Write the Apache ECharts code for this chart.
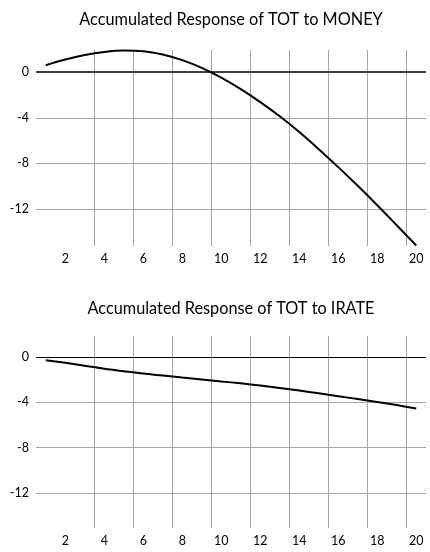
<!DOCTYPE html>
<html>
<head>
<meta charset="utf-8">
<script src="https://cdn.jsdelivr.net/npm/echarts@6/dist/echarts.min.js"></script>
<style>
  html, body { margin: 0; padding: 0; background: #fff; }
  #chart { width: 430px; height: 552px; }
</style>
</head>
<body>
<div id="chart"></div>
<script>
// Horizon (periods after the shock)
const periods = ['1','2','3','4','5','6','7','8','9','10','11','12','13','14','15','16','17','18','19','20'];

// Accumulated response of TOT to a MONEY shock
const responseMoney = [0.61, 1.11, 1.51, 1.78, 1.90, 1.85, 1.56, 1.06, 0.38, -0.48,
                       -1.49, -2.62, -3.87, -5.25, -6.75, -8.33, -9.97, -11.67, -13.43, -15.21];

// Accumulated response of TOT to an IRATE shock
const responseIrate = [-0.29, -0.52, -0.78, -1.04, -1.26, -1.47, -1.64, -1.81, -1.98, -2.16,
                       -2.33, -2.52, -2.74, -2.97, -3.21, -3.46, -3.72, -3.98, -4.25, -4.55];

// Panel titles and value-axis ranges
const titles = ['Accumulated Response of TOT to MONEY', 'Accumulated Response of TOT to IRATE'];
const yRanges = [[-15.25, 1.95], [-15.1, 1.85]];
const yStep = 4;

const FONT = 'Lato, "Open Sans", sans-serif';
const GRID_COLOR = '#a6a6a6';

const grids = [
  { left: 36, right: 4, top: 50, height: 196 },
  { left: 36, right: 4, top: 336, height: 192 }
];

function xAxisFor(i) {
  return {
    type: 'category',
    gridIndex: i,
    data: periods,
    boundaryGap: true,
    axisLine: { show: false },
    axisTick: { show: false },
    axisLabel: {
      interval: (idx) => idx % 2 === 1,
      color: '#000',
      fontFamily: FONT,
      fontSize: 12.5,
      margin: 6
    },
    splitLine: {
      show: true,
      interval: (idx) => idx % 2 === 1,
      showMinLine: false,
      showMaxLine: false,
      lineStyle: { color: GRID_COLOR, width: 1 }
    }
  };
}

function yAxisFor(i) {
  return {
    type: 'value',
    gridIndex: i,
    min: yRanges[i][0],
    max: yRanges[i][1],
    minInterval: yStep,
    maxInterval: yStep,
    axisLine: { show: false },
    axisTick: { show: false },
    axisLabel: {
      showMinLabel: false,
      showMaxLabel: false,
      color: '#000',
      fontFamily: FONT,
      fontSize: 12.5,
      margin: 7
    },
    splitLine: {
      show: true,
      showMinLine: false,
      showMaxLine: false,
      lineStyle: { color: GRID_COLOR, width: 1 }
    }
  };
}

function seriesFor(i, values, zeroColor, zeroWidth) {
  return {
    type: 'line',
    xAxisIndex: i,
    yAxisIndex: i,
    data: values,
    smooth: 0.35,
    symbol: 'none',
    lineStyle: { color: '#000', width: 2 },
    silent: true,
    z: 5,
    markLine: {
      silent: true,
      symbol: 'none',
      label: { show: false },
      lineStyle: { color: zeroColor, width: zeroWidth, type: 'solid' },
      data: [{ yAxis: 0 }],
      z: 4
    }
  };
}

const chart = echarts.init(document.getElementById('chart'), null, { renderer: 'canvas' });
chart.setOption({
  animation: false,
  backgroundColor: '#fff',
  title: [
    {
      text: titles[0], left: 231, top: 12, textAlign: 'center', padding: 0,
      textStyle: { fontFamily: FONT, fontSize: 16.3, fontWeight: 'normal', color: '#000' }
    },
    {
      text: titles[1], left: 231, top: 301, textAlign: 'center', padding: 0,
      textStyle: { fontFamily: FONT, fontSize: 16.3, fontWeight: 'normal', color: '#000' }
    }
  ],
  grid: grids,
  xAxis: [xAxisFor(0), xAxisFor(1)],
  yAxis: [yAxisFor(0), yAxisFor(1)],
  series: [
    seriesFor(0, responseMoney, '#404040', 2),
    seriesFor(1, responseIrate, '#000', 1.2)
  ]
});
</script>
</body>
</html>
